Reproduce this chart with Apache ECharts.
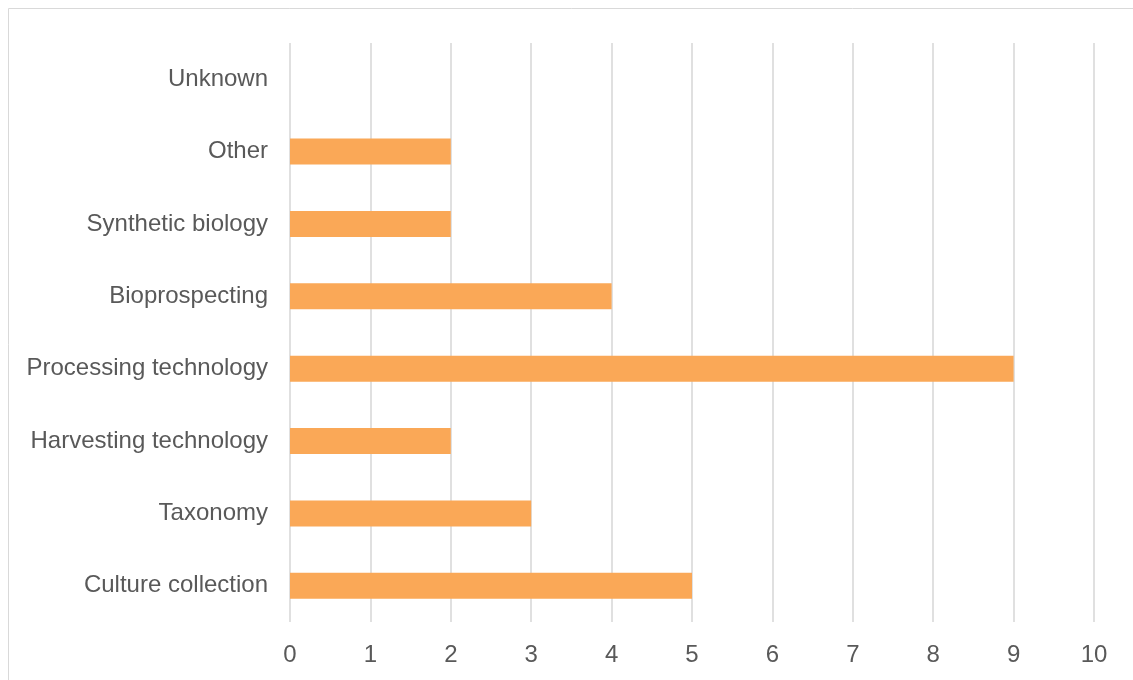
<!DOCTYPE html>
<html><head><meta charset="utf-8">
<script src="https://cdn.jsdelivr.net/npm/echarts@6/dist/echarts.min.js"></script>
<style>html,body{margin:0;padding:0;background:#fff}#c{width:1133px;height:680px}</style>
</head><body><div id="c"></div>
<script>
var categories = ["Culture collection","Taxonomy","Harvesting technology","Processing technology","Bioprospecting","Synthetic biology","Other","Unknown"];
var values = [5,3,2,9,4,2,2,0];
var chart = echarts.init(document.getElementById('c'));
chart.setOption({
  animation:false,
  graphic:[{type:'rect',shape:{x:8.5,y:8.5,width:1140,height:700},style:{fill:'none',stroke:'#d9d9d9',lineWidth:1},silent:true}],
  grid:{left:290,right:39,top:43,bottom:58,containLabel:false},
  xAxis:{type:'value',min:0,max:10,interval:1,
    axisLine:{show:false},axisTick:{show:false},
    splitLine:{lineStyle:{color:'#e0e0e0',width:2}},
    axisLabel:{color:'#595959',fontSize:24,fontFamily:'Liberation Sans, Arial, sans-serif',margin:21}},
  yAxis:{type:'category',data:categories,
    axisLine:{show:false},axisTick:{show:false},
    axisLabel:{color:'#595959',fontSize:24,fontFamily:'Liberation Sans, Arial, sans-serif',margin:22,padding:[4,0,0,0]}},
  series:[{type:'bar',data:values,barWidth:26,itemStyle:{color:'#FAA857'}}]
});
</script></body></html>
